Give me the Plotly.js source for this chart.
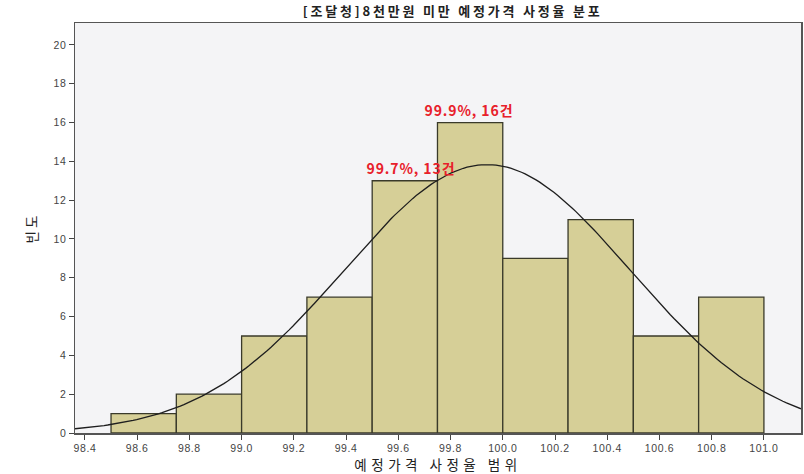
<!DOCTYPE html>
<html><head><meta charset="utf-8">
<script src="https://cdn.plot.ly/plotly-3.0.1.min.js"></script>
<style>
html,body{margin:0;padding:0;background:#fff}#chart{width:804px;height:474px}
#chart text.gtitle{letter-spacing:2.8px}
#chart text.xtitle{letter-spacing:4.5px}
#chart text.ytitle{letter-spacing:3px}
#chart .annotation-text{letter-spacing:0.9px}
#chart .xtick text,#chart .ytick text{letter-spacing:0.6px}
</style>
</head><body><div id="chart"></div>
<script>
// Histogram bins (lower edges) and frequencies
const binLower = [98.50, 98.75, 99.00, 99.25, 99.50, 99.75, 100.00, 100.25, 100.50, 100.75];
const binWidth = 0.25;
const counts = [1, 2, 5, 7, 13, 16, 9, 11, 5, 7];
// Fitted normal curve parameters
const fitMean = 99.94;
const fitSD = 0.548;
const xTicks = [98.4, 98.6, 98.8, 99.0, 99.2, 99.4, 99.6, 99.8, 100.0, 100.2, 100.4, 100.6, 100.8, 101.0];
const xTickLabels = ["98.4","98.6","98.8","99.0","99.2","99.4","99.6","99.8","100.0","100.2","100.4","100.6","100.8","101.0"];
const yTicks = [0,2,4,6,8,10,12,14,16,18,20];
const noteText = ["99.7%, 13건", "99.9%, 16건"];
const noteX = [99.65, 99.87];
const noteY = [13, 16];

const xRange = [98.362, 101.142];
const N = counts.reduce((a,b)=>a+b,0);
const mids = binLower.map(v=>v+binWidth/2);
const cx=[], cy=[];
const steps=200;
for(let i=0;i<=steps;i++){
  const x = xRange[0]+(xRange[1]-xRange[0])*i/steps;
  const z=(x-fitMean)/fitSD;
  cx.push(x); cy.push(N*binWidth/(fitSD*Math.sqrt(2*Math.PI))*Math.exp(-0.5*z*z));
}
const kfont = '"Noto Sans CJK KR", "Noto Sans", sans-serif';
const nfont = '"Liberation Sans", Arial, sans-serif';
const traces = [
  {type:'bar', x:mids, y:counts, width:binWidth,
   marker:{color:'#d6cf97', line:{color:'#3a3a2a', width:1.3}}, hoverinfo:'none'},
  {type:'scatter', mode:'lines', x:cx, y:cy, line:{color:'#1e1e1e', width:1.3}, hoverinfo:'none'}
];
const layout = {
  width:804, height:474,
  margin:{l:75, r:3, t:23, b:41},
  paper_bgcolor:'#ffffff', plot_bgcolor:'#f4f4f6',
  showlegend:false, bargap:0,
  title:{text:'<b>[조달청]8천만원 미만 예정가격 사정율 분포</b>', font:{family:kfont, size:13, color:'#222'}, x:0.563, xanchor:'center', y:0.985, yanchor:'top'},
  xaxis:{range:xRange, tickvals:xTicks, ticktext:xTickLabels, ticks:'outside', ticklen:5, tickcolor:'#444',
    showgrid:false, zeroline:false, showline:true, linecolor:'#555', linewidth:1.5, mirror:true,
    tickfont:{family:nfont, size:10.5, color:'#444'},
    title:{text:'예정가격 사정율 범위', font:{family:kfont, size:13.5, color:'#222'}, standoff:5}},
  yaxis:{range:[0,21.13], tickvals:yTicks, ticks:'outside', ticklen:5, tickcolor:'#444',
    showgrid:false, zeroline:false, showline:true, linecolor:'#555', linewidth:1.5, mirror:true,
    tickfont:{family:nfont, size:10.5, color:'#444'},
    title:{text:'빈도', font:{family:kfont, size:13.5, color:'#222'}, standoff:14}},
  annotations: noteText.map((t,i)=>({x:noteX[i], y:noteY[i], text:'<b>'+t+'</b>', showarrow:false,
    yanchor:'bottom', yshift:1, font:{family:kfont, size:14, color:'#e8202a'}}))
};
Plotly.newPlot('chart', traces, layout, {displayModeBar:false, staticPlot:true});
</script></body></html>
